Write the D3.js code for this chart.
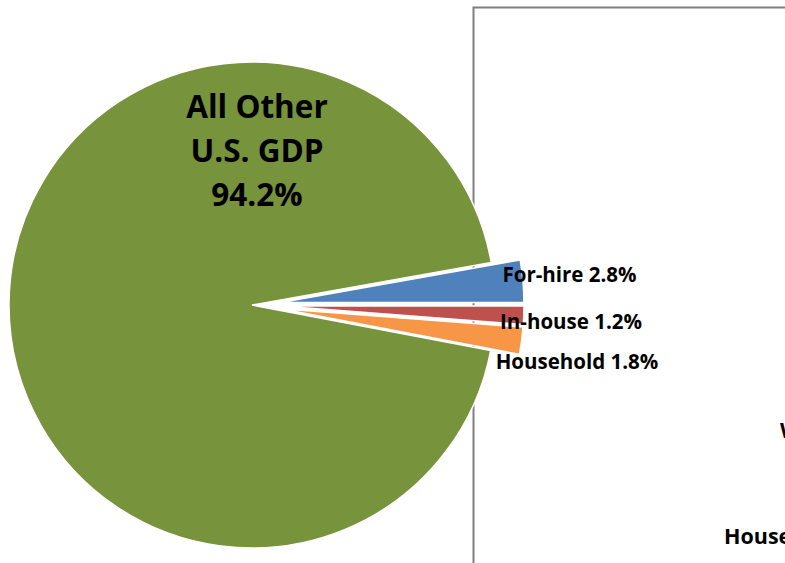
<!DOCTYPE html>
<html>
<head>
<meta charset="utf-8">
<script src="https://cdn.jsdelivr.net/npm/d3@7"></script>
<style>
  html, body { margin: 0; padding: 0; background: #fff; }
  svg { display: block; }
  text { font-family: "Open Sans", Lato, sans-serif; font-weight: bold; fill: #000; }
</style>
</head>
<body>
<script>
// ---- data ----
const categories = ["For-hire", "In-house", "Household", "All Other U.S. GDP"];
const values = [2.8, 1.2, 1.8, 94.2];
const labelLines = [["For-hire 2.8%"], ["In-house 1.2%"], ["Household 1.8%"], ["All Other", "U.S. GDP", "94.2%"]];
const exploded = [true, true, true, false];
const colors = ["#4F81BD", "#C0504D", "#F79646", "#77933C"];

// ---- layout ----
const W = 785, H = 563;
const cx = 252, cy = 305, R = 243, explode = 29;

const svg = d3.select("body").append("svg").attr("width", W).attr("height", H);

// frame of the neighbouring chart (partly cut off)
svg.append("rect")
  .attr("x", 473.5).attr("y", 7.5)
  .attr("width", 400).attr("height", 600)
  .attr("fill", "none").attr("stroke", "#808080").attr("stroke-width", 2);

// partially visible text of the neighbouring chart
svg.append("text").attr("x", 780).attr("y", 438).attr("font-size", 21.5).text("W");
svg.append("text").attr("x", 724).attr("y", 544).attr("font-size", 21.5).text("Household");

const start = Math.PI / 2 - values[0] / 100 * 2 * Math.PI;
const pie = d3.pie().sort(null).startAngle(start).endAngle(start + 2 * Math.PI);
const arcs = pie(values);
const arc = d3.arc().innerRadius(0).outerRadius(R);

const g = svg.append("g").attr("transform", `translate(${cx},${cy})`);

g.selectAll("path").data(arcs).join("path")
  .attr("d", arc)
  .attr("fill", (d, i) => colors[i])
  .attr("stroke", "#fff").attr("stroke-width", 1.5).attr("stroke-linejoin", "miter")
  .attr("transform", (d, i) => {
    if (!exploded[i]) return null;
    const a = (d.startAngle + d.endAngle) / 2;
    return `translate(${explode * Math.sin(a)},${-explode * Math.cos(a)})`;
  });

// labels
const labelLayout = [
  { x: 569.5, y: 282, size: 20.5 },
  { x: 571, y: 328.5, size: 20.5 },
  { x: 577, y: 369, size: 20.5 },
  { x: 257, y: 117.5, size: 31.5, lh: 44 }
];
labelLines.forEach((lines, i) => {
  const L = labelLayout[i];
  lines.forEach((t, j) => {
    svg.append("text")
      .attr("x", L.x).attr("y", L.y + j * (L.lh || 0))
      .attr("text-anchor", "middle")
      .attr("font-size", L.size)
      .text(t);
  });
});
</script>
</body>
</html>
